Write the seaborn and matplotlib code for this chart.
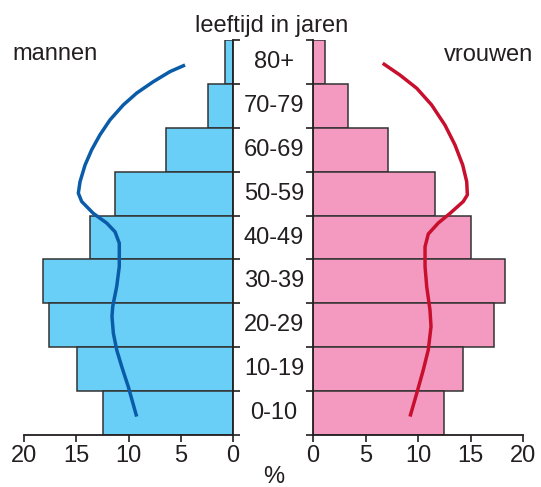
import numpy as np
import pandas as pd
import matplotlib
matplotlib.use("Agg")
import matplotlib.pyplot as plt
import matplotlib.transforms as mtransforms
import seaborn as sns

# ---- data (top row first) ----
ages = ["80+", "70-79", "60-69", "50-59", "40-49", "30-39", "20-29", "10-19", "0-10"]
men = [0.8, 2.4, 6.4, 11.3, 13.7, 18.2, 17.6, 14.9, 12.4]
women = [1.1, 3.3, 7.1, 11.6, 15.0, 18.3, 17.2, 14.3, 12.5]

# curves: values (%) and vertical position in row units (0 = centre of "80+" row)
men_curve_val = [4.59, 6.03, 7.63, 9.22, 10.50, 11.77, 12.73, 13.52, 14.16, 14.64, 14.80,
                 14.48, 13.37, 12.09, 11.29, 10.88, 10.88, 11.13, 11.51, 11.58, 11.45,
                 11.13, 10.65, 10.02, 9.22]
men_curve_pos = [0.07, 0.22, 0.45, 0.71, 0.98, 1.32, 1.66, 2.00, 2.35, 2.73, 2.99,
                 3.18, 3.45, 3.67, 3.87, 4.13, 4.66, 5.12, 5.57, 5.80, 6.18,
                 6.56, 6.94, 7.40, 8.08]
women_curve_val = [6.64, 8.29, 9.88, 11.30, 12.57, 13.52, 14.26, 14.64, 14.70, 14.31,
                   13.05, 11.93, 10.98, 10.67, 10.67, 10.83, 11.14, 11.24, 10.98, 10.50,
                   9.88, 9.24]
women_curve_pos = [0.03, 0.30, 0.60, 0.98, 1.44, 1.89, 2.35, 2.73, 3.03, 3.18,
                   3.45, 3.67, 3.92, 4.21, 4.66, 5.12, 5.65, 6.03, 6.56, 7.02,
                   7.55, 8.08]
xticks = [0, 5, 10, 15, 20]

sns.set_theme(style="white")
plt.rcParams["font.family"] = ["Liberation Sans", "DejaVu Sans"]
FS = 17

W, H = 541, 487
fig = plt.figure(figsize=(W / 100, H / 100), dpi=100)
axL = fig.add_axes([24 / W, 1 - 435 / H, 209 / W, 395 / H])
axR = fig.add_axes([313 / W, 1 - 435 / H, 210 / W, 395 / H])

dfm = pd.DataFrame({"age": ages, "pct": men})
dfw = pd.DataFrame({"age": ages, "pct": women})

blue_fill = "#6ACFF6"
pink_fill = "#F49AC1"
edge = "#333333"
axis_col = "#231F20"

sns.barplot(data=dfm, x="pct", y="age", order=ages, orient="h", color=blue_fill,
            saturation=1, width=1.0, edgecolor=edge, linewidth=1.1, ax=axL)
sns.barplot(data=dfw, x="pct", y="age", order=ages, orient="h", color=pink_fill,
            saturation=1, width=1.0, edgecolor=edge, linewidth=1.1, ax=axR)

sns.lineplot(x=men_curve_val, y=men_curve_pos, sort=False, estimator=None,
             color="#0A5CA8", linewidth=2.5, ax=axL,
             solid_joinstyle="round", solid_capstyle="butt")
sns.lineplot(x=women_curve_val, y=women_curve_pos, sort=False, estimator=None,
             color="#C8102E", linewidth=2.5, ax=axR,
             solid_joinstyle="round", solid_capstyle="butt")

for ax in (axL, axR):
    ax.set_ylim(len(ages) - 0.5, -0.5)
    ax.set_yticks(np.arange(-0.5, len(ages), 1.0))
    ax.set_yticklabels([])
    ax.set_xticks(xticks)
    ax.set_xticklabels([str(t) for t in xticks])
    ax.set_xlabel("")
    ax.set_ylabel("")
    ax.tick_params(axis="both", length=5, width=1.2, color=axis_col, direction="out",
                   labelsize=FS, labelcolor="#231F20", pad=2)
    for s in ax.spines.values():
        s.set_color(axis_col)
        s.set_linewidth(1.3)
    ax.spines["top"].set_visible(False)

axL.set_xlim(20, 0)
axR.set_xlim(0, 20)
axL.spines["left"].set_visible(False)
axL.yaxis.tick_right()
axL.tick_params(axis="y", left=False, right=True)
axR.spines["right"].set_visible(False)
axR.tick_params(axis="y", left=True, right=False)
axL.tick_params(axis="x", bottom=True)
axR.tick_params(axis="x", bottom=True)

# age labels in the middle
trans = mtransforms.blended_transform_factory(fig.transFigure, axR.transData)
for i, a in enumerate(ages):
    fig.text(274 / W, i, a, transform=trans, ha="center", va="center",
             fontsize=FS, color="#231F20")

fig.text(272 / W, 1 - 32 / H, "leeftijd in jaren", ha="center", va="baseline",
         fontsize=FS, color="#231F20")
fig.text(12 / W, 1 - 60 / H, "mannen", ha="left", va="baseline",
         fontsize=FS, color="#231F20")
fig.text(533 / W, 1 - 61 / H, "vrouwen", ha="right", va="baseline",
         fontsize=FS, color="#231F20")
fig.text(274 / W, 1 - 483 / H, "%", ha="center", va="baseline",
         fontsize=FS, color="#231F20")

fig.savefig("out.png", dpi=100)
